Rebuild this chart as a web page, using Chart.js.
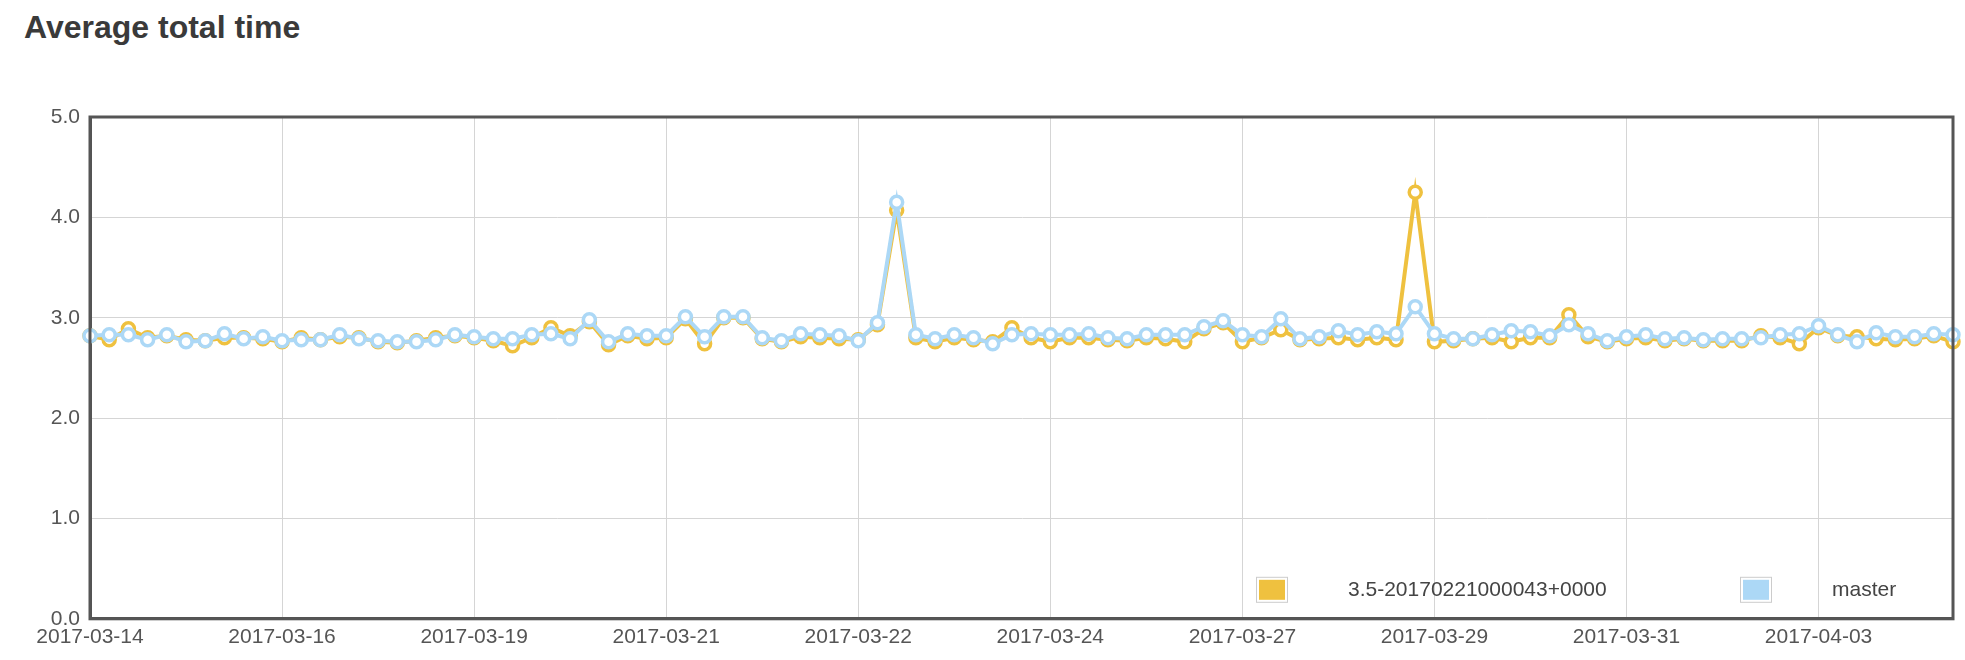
<!DOCTYPE html>
<html><head><meta charset="utf-8">
<script src="https://cdn.jsdelivr.net/npm/chart.js@4"></script>
<style>
html,body{margin:0;padding:0;background:#fff;}
#t{position:absolute;left:24px;top:9px;font:bold 32px "Liberation Sans",Arial,sans-serif;color:#3a3a3a;}
#w{position:absolute;left:0;top:0;width:1965px;height:660px;}
</style></head><body>
<div id="t">Average total time</div>
<div id="w"><canvas id="c"></canvas></div>
<script>
const tickDates = ["2017-03-14","2017-03-16","2017-03-19","2017-03-21","2017-03-22","2017-03-24","2017-03-27","2017-03-29","2017-03-31","2017-04-03"];
const master = [2.82,2.83,2.83,2.78,2.83,2.76,2.77,2.84,2.79,2.81,2.77,2.78,2.78,2.83,2.79,2.77,2.76,2.76,2.78,2.83,2.81,2.79,2.79,2.83,2.84,
 2.79,2.98,2.76,2.84,2.82,2.82,3.01,2.81,3.01,3.01,2.80,2.77,2.84,2.83,2.82,2.77,2.95,4.15,2.83,2.79,2.83,2.80,2.74,2.83,
 2.84,2.83,2.83,2.84,2.80,2.79,2.83,2.83,2.83,2.91,2.97,2.83,2.81,2.99,2.79,2.81,2.87,2.83,2.86,2.84,3.11,2.84,2.79,2.79,
 2.83,2.87,2.86,2.82,2.93,2.84,2.77,2.81,2.83,2.79,2.80,2.78,2.79,2.79,2.80,2.83,2.84,2.92,2.83,2.76,2.85,2.81,2.81,2.84,2.83];
const branch = [2.82,2.78,2.89,2.80,2.82,2.78,2.77,2.80,2.80,2.79,2.76,2.80,2.78,2.81,2.80,2.76,2.75,2.77,2.80,2.82,2.80,2.77,2.72,2.80,2.90,
 2.82,2.96,2.73,2.82,2.79,2.80,2.99,2.74,3.00,3.00,2.79,2.76,2.81,2.80,2.79,2.78,2.93,4.07,2.80,2.76,2.80,2.78,2.76,2.90,
 2.80,2.76,2.80,2.80,2.78,2.77,2.80,2.79,2.76,2.89,2.95,2.76,2.80,2.88,2.78,2.79,2.80,2.78,2.80,2.78,4.25,2.76,2.77,2.79,
 2.80,2.76,2.80,2.80,3.03,2.81,2.76,2.79,2.80,2.77,2.79,2.77,2.77,2.77,2.82,2.80,2.74,2.90,2.82,2.81,2.79,2.78,2.79,2.82,2.76];
const labels = master.map((v,i)=> i%10===0 ? tickDates[i/10] : "");
const yTicks = [0,1,2,3,4,5];
const FONT='"Liberation Sans",Arial,sans-serif';

const legendIn = {id:'legendIn', afterDraw(ch){
  const c=ch.ctx, a=ch.chartArea; c.save();
  c.font='21px '+FONT; c.textBaseline='middle';
  const items=[{x:1256,tx:1348},{x:1740,tx:1832}];
  ch.data.datasets.forEach((d,i)=>{const it=items[i];const y=a.bottom-29;
    c.fillStyle='#fff';c.strokeStyle='#ccc';c.lineWidth=1;c.fillRect(it.x,y-13,32,26);c.strokeRect(it.x+0.5,y-12.5,31,25);
    c.fillStyle=d.borderColor;c.fillRect(it.x+3,y-10,26,20);
    c.fillStyle='#444';c.fillText(d.label,it.tx,y);});
  c.restore();}};

new Chart(document.getElementById('c'),{type:'line',
 data:{labels,datasets:[
  {label:'3.5-20170221000043+0000',data:branch,borderColor:'#efc13f',backgroundColor:'#fff',borderWidth:4,pointRadius:6,pointBorderWidth:3.5,pointBackgroundColor:'#fff',pointBorderColor:'#efc13f',tension:0,order:2},
  {label:'master',data:master,borderColor:'#acd8f6',backgroundColor:'#fff',borderWidth:4,pointRadius:6,pointBorderWidth:3.5,pointBackgroundColor:'#fff',pointBorderColor:'#acd8f6',tension:0,order:1}]},
 options:{responsive:true,maintainAspectRatio:false,animation:false,
  layout:{padding:{top:117,right:12,left:0,bottom:4}},
  plugins:{legend:{display:false},tooltip:{enabled:false}},
  scales:{
   x:{offset:false,grid:{color:ctx=>(ctx.index%10===0?'#d5d5d5':'rgba(0,0,0,0)'),lineWidth:1,drawTicks:false},border:{color:'#555',width:3},
      ticks:{autoSkip:false,maxRotation:0,padding:6,color:'#555',font:{size:21,family:FONT},
      callback:(v,i)=>labels[i]}},
   y:{min:0,max:5,afterFit:s=>{s.width=90;},afterBuildTicks:s=>{s.ticks=yTicks.map(v=>({value:v}));},
      grid:{color:'#d5d5d5',lineWidth:1,drawTicks:false},border:{color:'#555',width:3},
      ticks:{padding:10,color:'#555',font:{size:21,family:FONT},callback:v=>v.toFixed(1)}}
  }},
 plugins:[legendIn,{id:'frame',afterDraw(ch){const c=ch.ctx,a=ch.chartArea;c.save();c.strokeStyle='#555';c.lineWidth=3;c.strokeRect(a.left,a.top,a.right-a.left,a.bottom-a.top);c.restore();}}]
});
</script></body></html>
